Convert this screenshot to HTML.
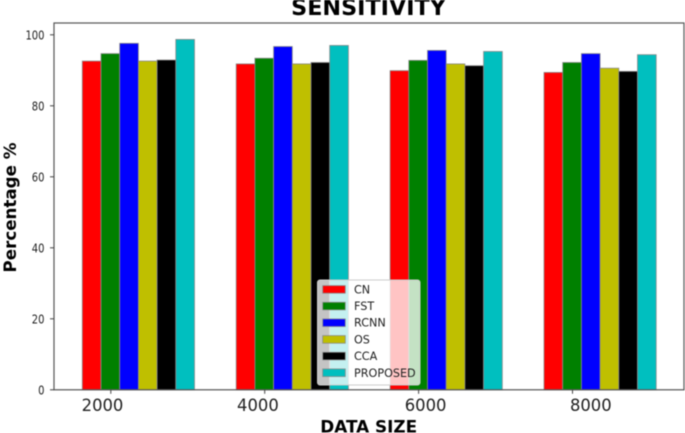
<!DOCTYPE html>
<html>
<head>
<meta charset="utf-8">
<style>
html,body{margin:0;padding:0;background:#fff;width:685px;height:433px;overflow:hidden}
svg{display:block;filter:blur(0.45px)}
text{font-family:"DejaVu Sans","Liberation Sans",sans-serif;fill:#222}
</style>
</head>
<body>
<svg id="chart" width="685" height="433" viewBox="0 0 685 433" xmlns="http://www.w3.org/2000/svg"></svg>
<script>
const categories = [2000, 4000, 6000, 8000];
const yTicks = [0, 20, 40, 60, 80, 100];
const seriesNames = ["CN", "FST", "RCNN", "OS", "CCA", "PROPOSED"];
const seriesColors = ["#ff0000", "#008000", "#0000ff", "#bfbf00", "#000000", "#00bfbf"];
const cnValues = [92.6, 91.8, 89.9, 89.4];
const fstValues = [94.7, 93.4, 92.8, 92.2];
const rcnnValues = [97.6, 96.7, 95.6, 94.7];
const osValues = [92.6, 91.8, 91.8, 90.6];
const ccaValues = [92.9, 92.2, 91.3, 89.7];
const proposedValues = [98.7, 97.0, 95.3, 94.4];
const seriesValues = [cnValues, fstValues, rcnnValues, osValues, ccaValues, proposedValues];

const NS = "http://www.w3.org/2000/svg";
const svg = document.getElementById("chart");
const L = 54, R = 684, T = 23, B = 389.8;
const x = v => 110.8 + (v - 2000) * 0.07695;
const y = v => B - v * 3.55;
const barW = 18.7;

function mk(tag, attrs, parent, txt) {
  const e = document.createElementNS(NS, tag);
  for (const k in attrs) e.setAttribute(k, attrs[k]);
  if (txt !== undefined) e.textContent = txt;
  (parent || svg).appendChild(e);
  return e;
}

const bg = mk("rect", {x: L, y: T, width: R - L, height: B - T, fill: "#fff"});



seriesValues.forEach((vals, s) => {
  const g = mk("g", {});
  
  
  vals.forEach((v, c) => {
    const b = mk("rect", {
      x: x(categories[c]) - 28.5 + s * barW,
      y: y(v),
      width: barW,
      height: y(0) - y(v),
      fill: seriesColors[s],
      stroke: "#8a8a8a",
      "stroke-width": 0.8
    }, g);
    
    
  });
});

const frame = mk("rect", {x: L, y: T, width: R - L, height: B - T, fill: "none", stroke: "#555", "stroke-width": 1.2});



yTicks.forEach(t => {
  const m = mk("line", {x1: L - 4, x2: L, y1: y(t), y2: y(t), stroke: "#444", "stroke-width": 1});
  
  
  const l = mk("text", {transform: "translate(44.5 " + (y(t) + 4.5) + ") scale(0.8 1)", "text-anchor": "end", "font-size": 12.5}, svg, t);
  
  
});

categories.forEach((t, i) => {
  const nudge = [-8.3, -6.8, 7, 18.3][i];
  const m = mk("line", {x1: x(t), x2: x(t), y1: B, y2: B + 4, stroke: "#444", "stroke-width": 1});
  
  
  const l = mk("text", {x: x(t) + nudge, y: 411, "text-anchor": "middle", "font-size": 16.4}, svg, t);
  
  
});

const title = mk("text", {x: 368.5, y: 15, "text-anchor": "middle", "font-size": 22.3, "font-weight": "bold", style: "fill:#000"}, svg, "SENSITIVITY");



const xTitle = mk("text", {x: 368.7, y: 432.3, "text-anchor": "middle", "font-size": 16.85, "font-weight": "bold", style: "fill:#000"}, svg, "DATA SIZE");



const yTitle = mk("text", {x: 0, y: 0, transform: "translate(16 207.5) rotate(-90)", "text-anchor": "middle", "font-size": 16.7, "font-weight": "bold", style: "fill:#000"}, svg, "Percentage %");



const legend = mk("g", {});


const box = mk("rect", {x: 317.5, y: 280, width: 102.5, height: 105, rx: 2.5, fill: "#fff", "fill-opacity": 0.77, stroke: "#ccc", "stroke-width": 1}, legend);


seriesNames.forEach((n, i) => {
  const cy = 289.4 + i * 16.67;
  const h = mk("rect", {x: 322.7, y: cy - 3.8, width: 22.6, height: 7.6, fill: seriesColors[i], stroke: "#8a8a8a", "stroke-width": 0.8}, legend);
  
  
  const t = mk("text", {x: 354, y: cy + 4, "font-size": 11.2}, legend, n);
  
  
});
</script>
</body>
</html>
